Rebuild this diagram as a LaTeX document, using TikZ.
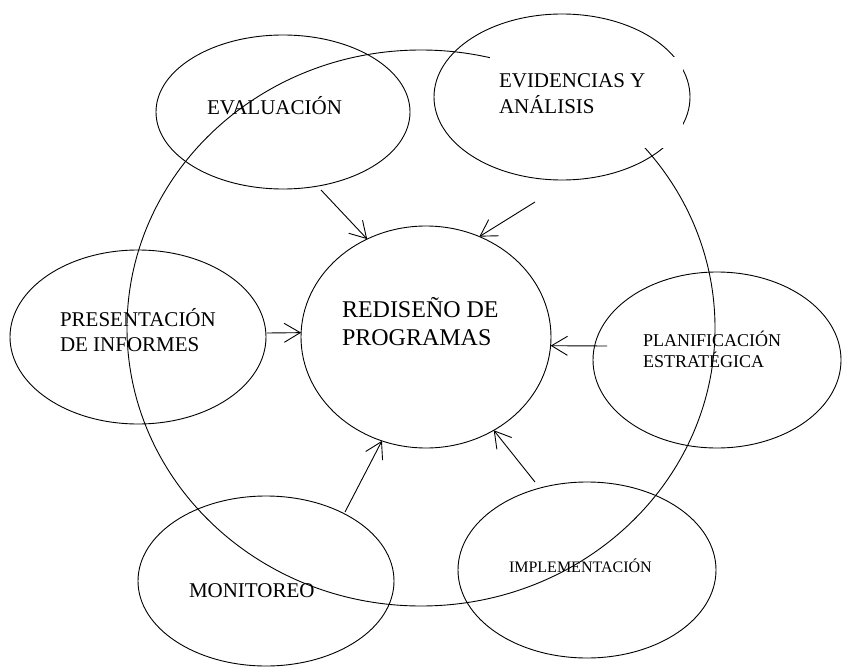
\documentclass[tikz,border=0pt]{standalone}
\usepackage{fontspec}
\setmainfont{Liberation Serif}
\usetikzlibrary{shapes.geometric,arrows.meta}
% two left-aligned lines, baseline on the first one
\newcommand{\twolines}[2]{\begin{tabular}[t]{@{}l@{}}#1\\#2\end{tabular}}
\begin{document}
\begin{tikzpicture}[x=1pt,y=-1pt,
  bubble/.style={draw, ellipse, inner sep=0pt, outer sep=0pt, line width=0.9pt},
  feed/.style={line width=0.9pt, -{Straight Barb[length=16pt,width=19pt,line width=0.9pt]}},
  lbl/.style={anchor=base west, inner sep=0pt, outer sep=0pt}
]
\useasboundingbox (0,0) rectangle (842,668);

% large ring behind everything
\node[bubble, minimum width=588pt, minimum height=556pt] (ring) at (421,328) {};

% central bubble
\node[bubble, minimum width=250pt, minimum height=222pt] (rd) at (426,337) {};

% surrounding bubbles
\node[bubble, minimum width=254pt, minimum height=154pt] (eval)  at (283,112) {};
\node[bubble, minimum width=256pt, minimum height=166pt] (evid)  at (562,97)  {};
\node[bubble, minimum width=256pt, minimum height=174pt] (pres)  at (138,337) {};
\node[bubble, minimum width=248pt, minimum height=176pt] (plan)  at (717,360) {};
\node[bubble, minimum width=258pt, minimum height=176pt] (impl)  at (587,570) {};
\node[bubble, minimum width=256pt, minimum height=170pt] (moni)  at (266,581) {};

% opaque text frame of the top-right bubble
\fill[white] (490,57) rectangle (683,148);

% labels
\node[lbl, font=\fontsize{24}{28}\selectfont] (t-rd) at (342,317)
  {\twolines{REDISEÑO DE}{PROGRAMAS}};
\node[lbl, font=\fontsize{21}{25}\selectfont] (t-eval) at (207,115) {EVALUACIÓN};
\node[lbl, font=\fontsize{21}{25}\selectfont] (t-evid) at (499,88)
  {\twolines{EVIDENCIAS Y}{ANÁLISIS}};
\node[lbl, font=\fontsize{21}{25}\selectfont] (t-pres) at (60,326)
  {\twolines{PRESENTACIÓN}{DE INFORMES}};
\node[lbl, font=\fontsize{18}{21}\selectfont] (t-plan) at (643,346)
  {\twolines{PLANIFICACIÓN}{ESTRATÉGICA}};
\node[lbl, font=\fontsize{16}{19}\selectfont] (t-impl) at (509,572) {IMPLEMENTACIÓN};
\node[lbl, font=\fontsize{21}{25}\selectfont] (t-moni) at (189,597) {MONITOREO};

% arrow start points
\coordinate (s-eval) at (321,190);
\coordinate (s-evid) at (535,202);
\coordinate (s-pres) at (267,333);
\coordinate (s-plan) at (607,346);
\coordinate (s-moni) at (345,512);
\coordinate (s-impl) at (535,482);

% arrows into the central bubble
\draw[feed] (s-eval) -- (rd.121);
\draw[feed] (s-evid) -- (rd.62.5);
\draw[feed] (s-pres) -- (rd.178);
\draw[feed] (s-plan) -- (rd.356);
\draw[feed] (s-moni) -- (rd.247);
\draw[feed] (s-impl) -- (rd.306);
\end{tikzpicture}
\end{document}
